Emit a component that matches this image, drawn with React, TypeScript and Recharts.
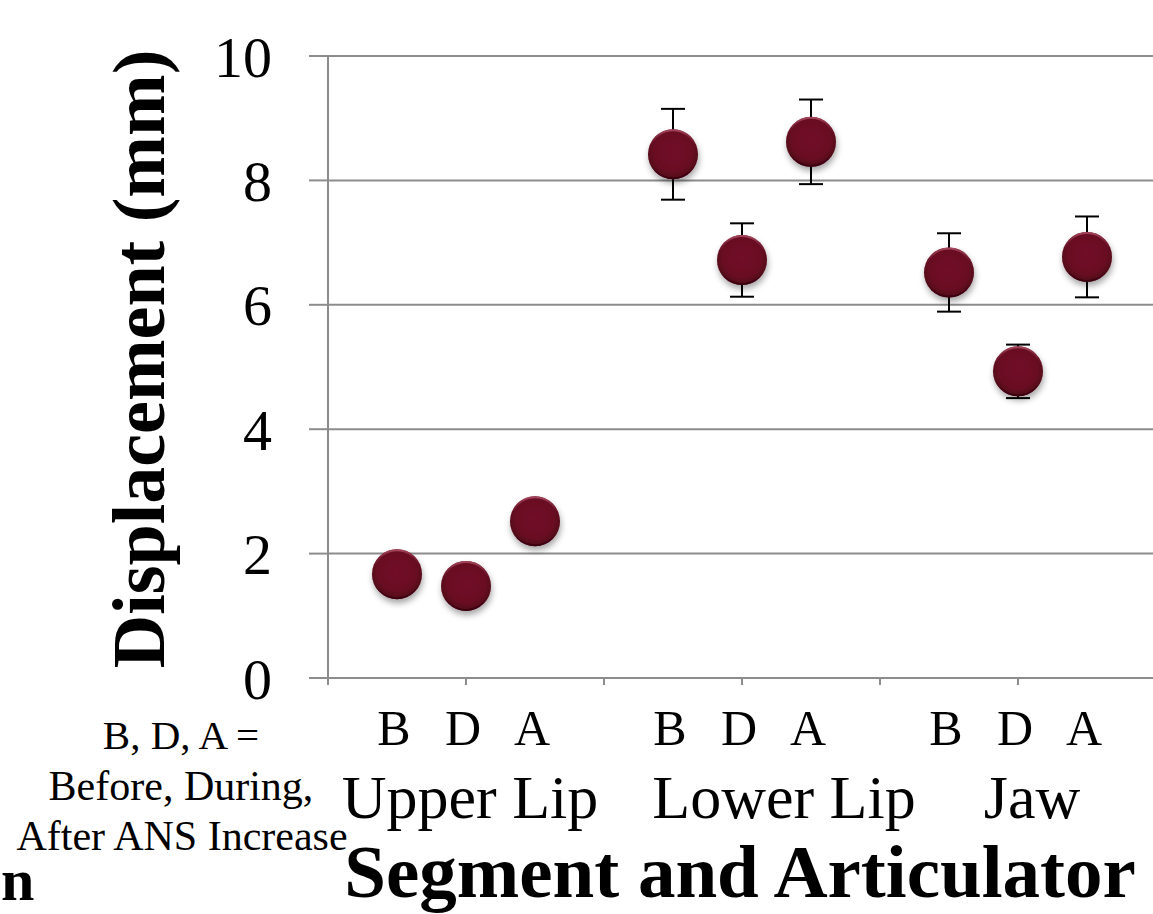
import React from 'react';
import { ScatterChart, Scatter, XAxis, YAxis, CartesianGrid, ErrorBar } from 'recharts';

const groups = ['Upper Lip', 'Lower Lip', 'Jaw'];
const phases = ['B', 'D', 'A'];
const displacement = [
  [1.67, 1.48, 2.52],
  [8.42, 6.72, 8.62],
  [6.52, 4.93, 6.77],
];
const stdError = [
  [0.15, 0.15, 0.18],
  [0.73, 0.59, 0.68],
  [0.63, 0.43, 0.65],
];
const yTicks = [0, 2, 4, 6, 8, 10];
const xTicks = [0, 1, 2, 3, 4, 5, 6, 7, 8, 9, 10, 11, 12];

// each group takes 4 slots on the x axis: 3 points and a gap
const points = groups.flatMap((g, gi) =>
  phases.map((p, pi) => ({
    x: gi * 4 + pi + 1,
    y: displacement[gi][pi],
    err: stdError[gi][pi],
    phase: p,
    group: g,
  }))
);

const FONT = '"Liberation Serif", "Times New Roman", serif';
const GRID = '#8c8c8c';

const phaseAt = (v: number) => {
  const p = points.find((d) => d.x === v);
  return p ? p.phase : '';
};

const XTick = (props: any) => {
  const { x, y, payload } = props;
  const v = payload.value;
  return (
    <g>
      {v % 2 === 0 && <line x1={x} x2={x} y1={y} y2={y + 7} stroke={GRID} strokeWidth={2} />}
      <text x={x - 3} y={y + 67} textAnchor="middle" fontSize={50} fontFamily={FONT} fill="#000">
        {phaseAt(v)}
      </text>
    </g>
  );
};

const Ball = (props: any) => {
  const { cx, cy } = props;
  if (cx == null || cy == null) return null;
  return (
    <g filter="url(#ballShadow)">
      <circle cx={cx} cy={cy} r={25} fill="url(#ballFill)" />
      <circle cx={cx} cy={cy} r={24} fill="none" stroke="url(#ballRim)" strokeWidth={2} />
    </g>
  );
};

export default function App() {
  return (
    <div style={{ position: 'absolute', left: 0, top: 0, width: 1153, height: 914, overflow: 'hidden', background: '#fff' }}>
      <svg width={0} height={0} style={{ position: 'absolute' }}>
        <defs>
          <radialGradient id="ballFill" cx="50%" cy="45%" r="55%">
            <stop offset="0%" stopColor="#721028" />
            <stop offset="70%" stopColor="#6a0c23" />
            <stop offset="100%" stopColor="#4e0716" />
          </radialGradient>
          <linearGradient id="ballRim" x1="0" y1="0" x2="0" y2="1">
            <stop offset="0%" stopColor="#a3445a" />
            <stop offset="45%" stopColor="#6a0a20" stopOpacity={0} />
            <stop offset="100%" stopColor="#3a0410" />
          </linearGradient>
          <filter id="ballShadow" x="-50%" y="-50%" width="200%" height="200%">
            <feDropShadow dx={1} dy={4} stdDeviation={3} floodColor="#000" floodOpacity={0.35} />
          </filter>
        </defs>
      </svg>
      <div style={{ position: 'absolute', left: 0, top: 0 }}>
        <ScatterChart width={1156} height={914} margin={{ top: 56, right: 0, bottom: 0, left: 0 }}>
          <CartesianGrid vertical={false} stroke={GRID} strokeWidth={2} />
          <XAxis
            type="number"
            dataKey="x"
            domain={[0, 12]}
            ticks={xTicks}
            interval={0}
            axisLine={{ stroke: GRID, strokeWidth: 2 }}
            tickLine={false}
            tickSize={0}
            tickMargin={0}
            tick={<XTick />}
            height={236}
          />
          <YAxis
            type="number"
            dataKey="y"
            domain={[0, 10]}
            ticks={yTicks}
            width={328}
            axisLine={{ stroke: GRID, strokeWidth: 2 }}
            tickLine={{ stroke: GRID, strokeWidth: 2 }}
            tickSize={19}
            tickMargin={37}
            tick={{ fontSize: 58, fill: '#000', fontFamily: FONT }}
          />
          <Scatter data={points} shape={<Ball />} isAnimationActive={false}>
            <ErrorBar dataKey="err" direction="y" width={12} stroke="#000" strokeWidth={2} />
          </Scatter>
        </ScatterChart>
      </div>
      <svg width={1153} height={914} style={{ position: 'absolute', left: 0, top: 0, pointerEvents: 'none' }}>
        <g fontFamily={FONT} fill="#000">
          <text
            x={164}
            y={359}
            transform="rotate(-90 164 359)"
            textAnchor="middle"
            fontSize={74}
            fontWeight="bold"
          >
            Displacement (mm)
          </text>
          <text x={470} y={818} textAnchor="middle" fontSize={62}>{groups[0]}</text>
          <text x={784} y={818} textAnchor="middle" fontSize={62}>{groups[1]}</text>
          <text x={1032} y={818} textAnchor="middle" fontSize={62}>{groups[2]}</text>
          <text x={181} y={749} textAnchor="middle" fontSize={41}>B, D, A =</text>
          <text x={181} y={800} textAnchor="middle" fontSize={42}>Before, During,</text>
          <text x={182} y={850} textAnchor="middle" fontSize={42}>After ANS Increase</text>
          <text x={740} y={897} textAnchor="middle" fontSize={75} fontWeight="bold">Segment and Articulator</text>
          <text x={1} y={900} textAnchor="start" fontSize={60} fontWeight="bold">n</text>
        </g>
      </svg>
    </div>
  );
}
